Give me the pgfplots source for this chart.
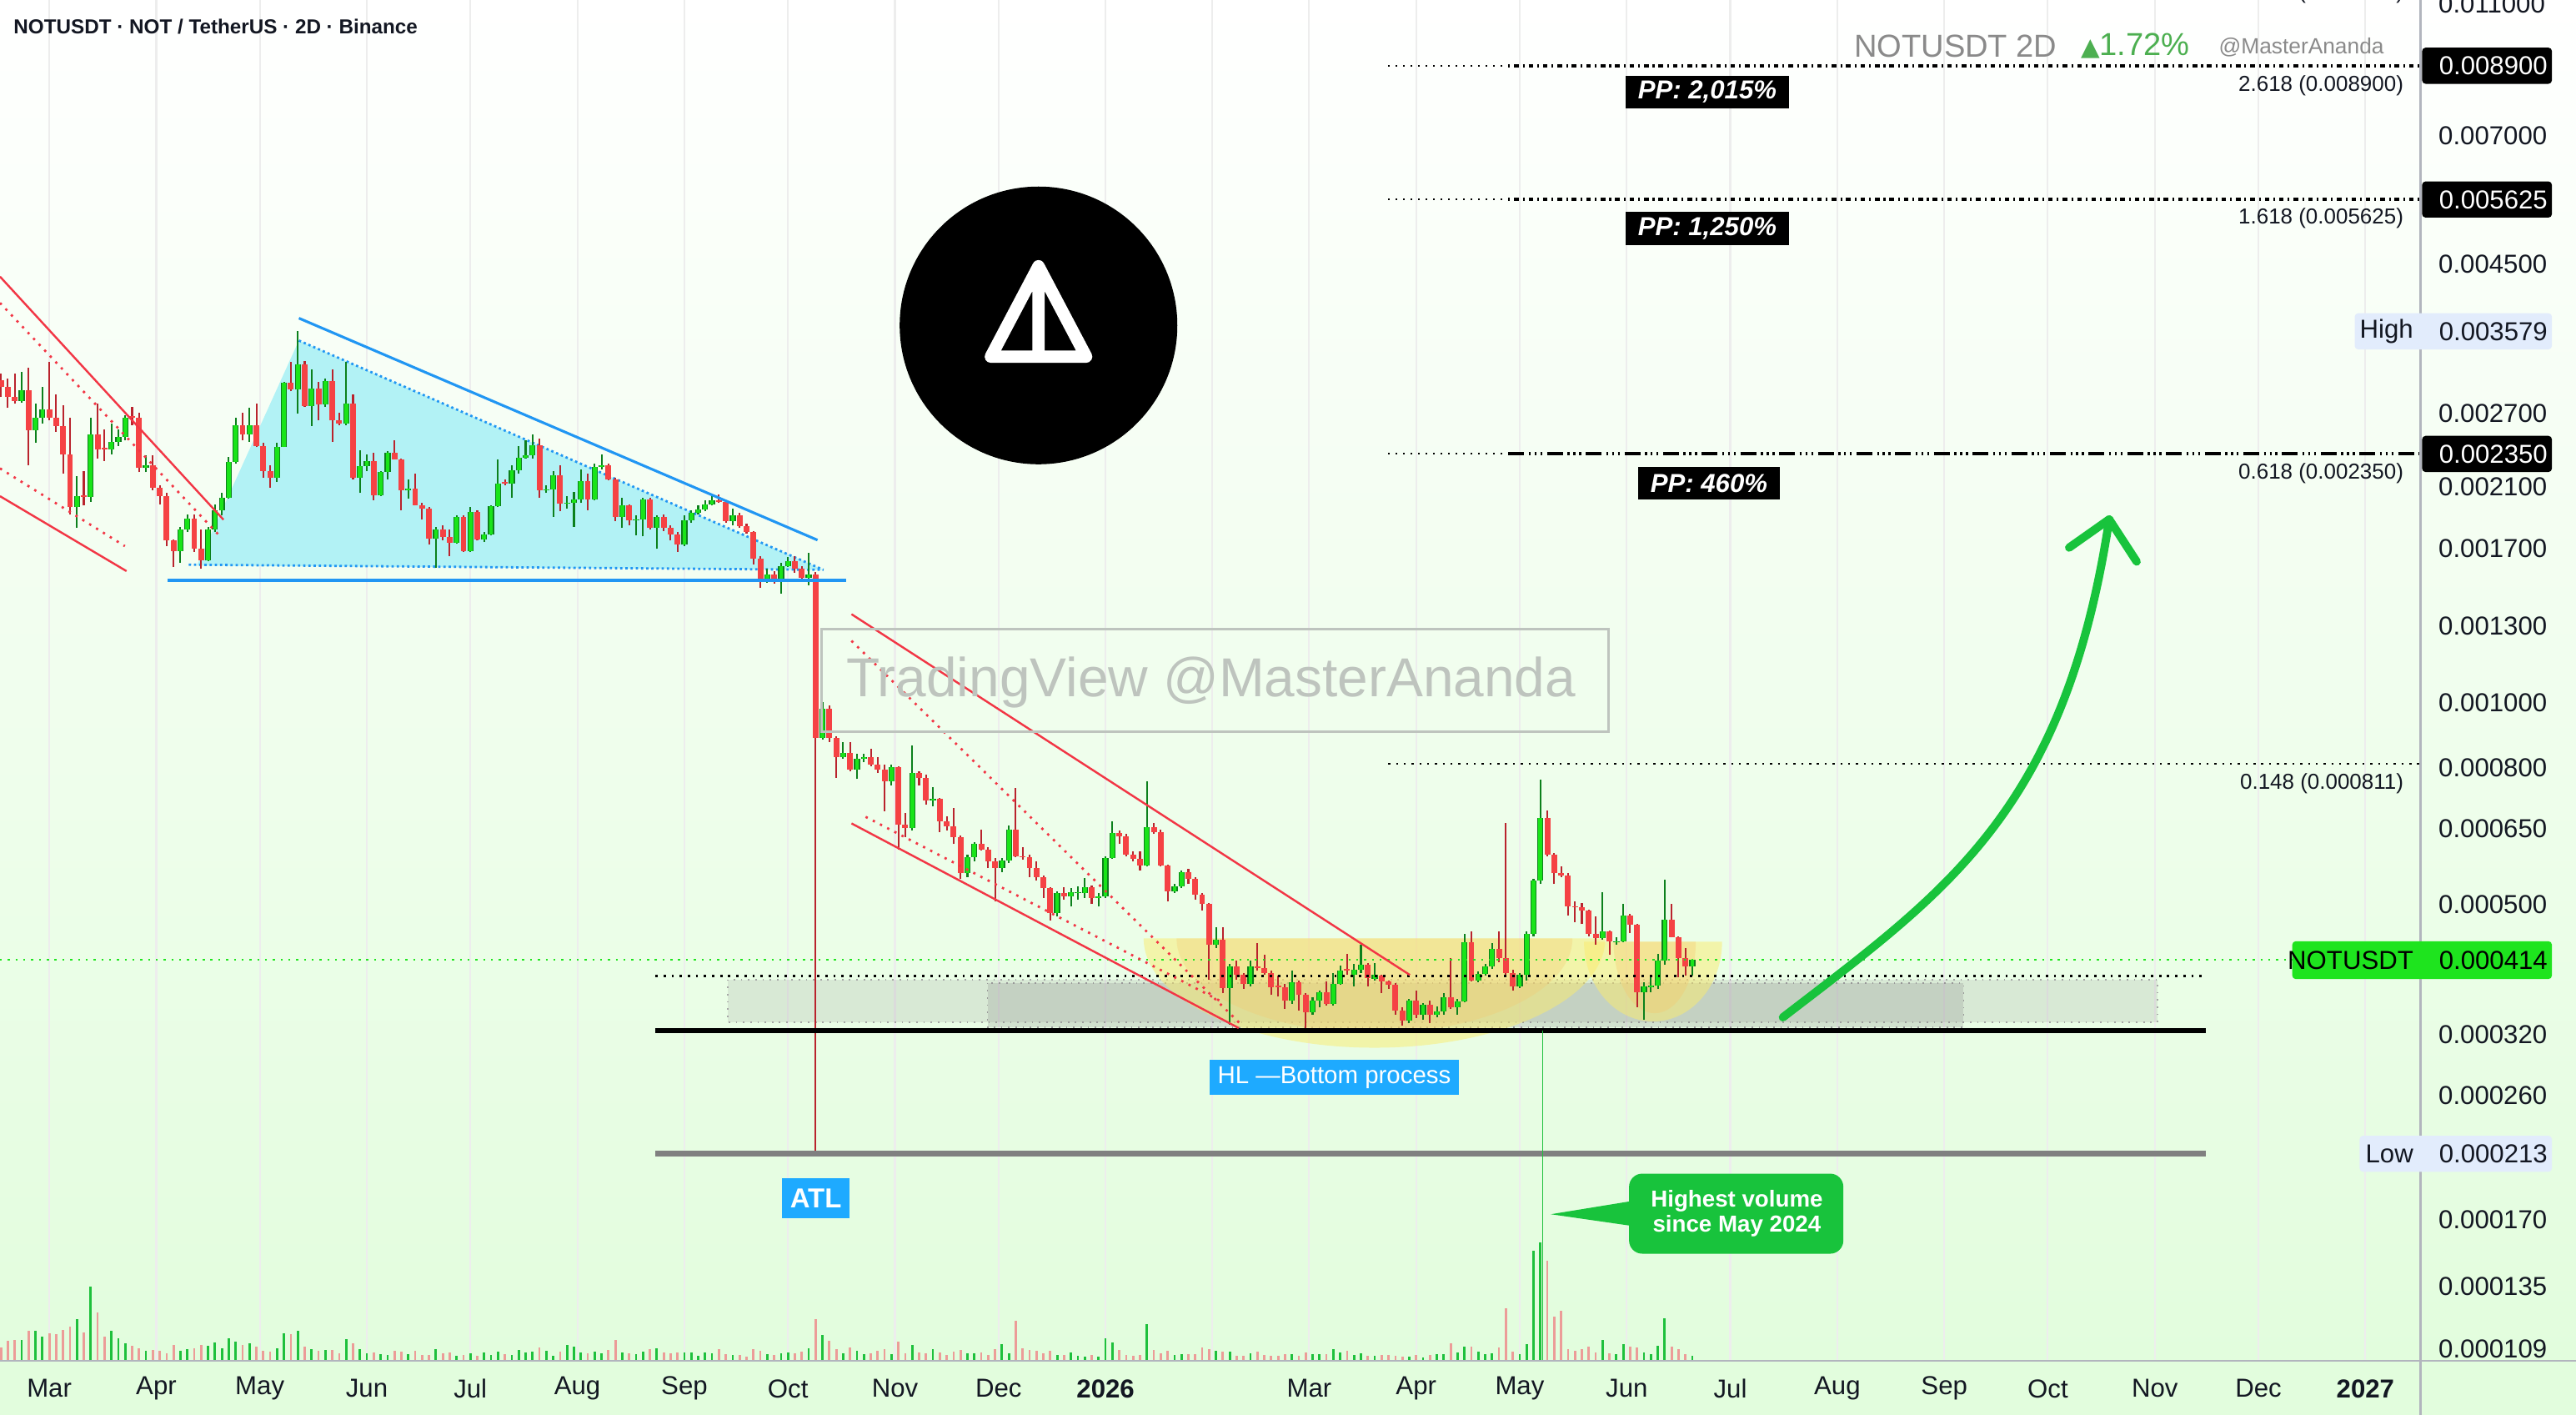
\documentclass[border=0pt]{standalone}
\usepackage{pgfplots}
\pgfplotsset{compat=1.18}
\usepackage{pgfplotstable}
\usepackage{fontspec}
\setmainfont{Liberation Sans}
\newfontfamily\dejavu{DejaVu Sans}

\definecolor{tvtext}{RGB}{19,23,34}
\definecolor{bggreen}{RGB}{226,253,221}
\definecolor{cgreen}{RGB}{25,228,25}
\definecolor{cgreendark}{RGB}{12,128,28}
\definecolor{cred}{RGB}{245,66,68}
\definecolor{credwick}{RGB}{185,35,45}
\definecolor{vgreen}{RGB}{30,192,60}
\definecolor{vred}{RGB}{236,156,152}
\definecolor{tvred}{RGB}{242,54,69}
\definecolor{tvblue}{RGB}{33,150,243}
\definecolor{trifill}{RGB}{178,242,245}
\definecolor{lblblue}{RGB}{30,170,255}
\definecolor{callgreen}{RGB}{24,195,60}
\definecolor{hlbg}{RGB}{226,236,252}
\definecolor{pricegreen}{RGB}{30,228,30}
\definecolor{hdrgray}{RGB}{138,138,138}
\definecolor{hdrgreen}{RGB}{76,175,80}
\definecolor{wm}{RGB}{190,196,190}
\definecolor{yel}{RGB}{250,236,110}
\definecolor{orn}{RGB}{245,200,110}
\definecolor{axisgray}{RGB}{178,181,190}

\pgfplotstableread{
d o h l c v
-14 0.003025 0.003098 0.002856 0.002953 7.9
-12 0.002953 0.003039 0.002749 0.002856 11.8
-10 0.002856 0.003098 0.002788 0.002815 12.5
-8 0.002815 0.003113 0.002802 0.002925 12.5
-6 0.002925 0.003158 0.002259 0.002546 18.1
-4 0.002546 0.002788 0.002439 0.002658 18.1
-2 0.002658 0.002953 0.002608 0.002735 14.5
0 0.002735 0.003219 0.002633 0.002658 16.6
2 0.002658 0.002883 0.002534 0.002588 16.1
4 0.002588 0.002775 0.002195 0.002347 18.6
6 0.002347 0.002658 0.001911 0.001957 20.6
8 0.001957 0.002174 0.001822 0.002033 25.2
10 0.002039 0.002216 0.001967 0.002029 17.1
12 0.002029 0.002658 0.001995 0.002510 45.0
14 0.002510 0.002788 0.002314 0.002388 29.3
16 0.002397 0.002558 0.002292 0.002388 14.5
18 0.002388 0.002608 0.002347 0.002450 18.1
20 0.002450 0.002558 0.002415 0.002491 13.5
22 0.002491 0.002684 0.002462 0.002663 10.5
24 0.002671 0.002762 0.002595 0.002658 9.0
26 0.002658 0.002709 0.002206 0.002237 7.4
28 0.002237 0.002336 0.002206 0.002259 5.9
30 0.002259 0.002336 0.002072 0.002092 6.4
32 0.002092 0.002112 0.001976 0.002033 5.9
34 0.002033 0.002053 0.001712 0.001745 4.4
36 0.001745 0.001753 0.001593 0.001682 9.5
38 0.001682 0.001830 0.001616 0.001813 5.9
40 0.001813 0.001911 0.001796 0.001880 6.9
42 0.001880 0.001911 0.001679 0.001695 7.4
44 0.001695 0.001813 0.001585 0.001631 9.5
46 0.001631 0.001830 0.001624 0.001813 9.0
48 0.001813 0.001976 0.001796 0.001938 11.0
50 0.001938 0.002053 0.001902 0.002023 7.4
52 0.002023 0.002325 0.002014 0.002287 13.5
54 0.002287 0.002658 0.002270 0.002595 11.5
56 0.002595 0.002709 0.002462 0.002515 9.5
58 0.002515 0.002749 0.002450 0.002595 10.5
60 0.002595 0.002788 0.002404 0.002415 8.5
62 0.002415 0.002439 0.002164 0.002216 5.9
64 0.002216 0.002259 0.002092 0.002164 5.4
66 0.002164 0.002439 0.002133 0.002408 7.4
68 0.002408 0.003010 0.002404 0.002996 16.6
70 0.002996 0.003219 0.002911 0.002933 16.1
72 0.002933 0.003579 0.002696 0.003195 18.1
74 0.003195 0.003234 0.002762 0.002770 8.5
76 0.002770 0.003143 0.002583 0.002939 6.9
78 0.002939 0.003010 0.002633 0.002783 5.9
80 0.002783 0.003039 0.002762 0.003016 6.4
82 0.003016 0.003143 0.002450 0.002633 6.4
84 0.002633 0.002709 0.002595 0.002608 4.4
86 0.002608 0.003219 0.002595 0.002793 13.0
88 0.002793 0.002883 0.002153 0.002164 10.5
90 0.002164 0.002381 0.002053 0.002255 6.9
92 0.002255 0.002347 0.002216 0.002292 4.4
94 0.002292 0.002358 0.002005 0.002039 4.9
96 0.002039 0.002216 0.002033 0.002206 3.9
98 0.002206 0.002369 0.002153 0.002358 3.4
100 0.002358 0.002462 0.002303 0.002307 5.9
102 0.002307 0.002314 0.001938 0.002072 5.4
104 0.002072 0.002153 0.002014 0.002086 3.9
106 0.002086 0.002195 0.001967 0.001972 5.9
108 0.001972 0.001986 0.001875 0.001948 3.4
110 0.001948 0.001957 0.001720 0.001758 3.4
112 0.001758 0.001830 0.001588 0.001813 6.9
114 0.001813 0.001839 0.001745 0.001767 4.4
116 0.001767 0.001813 0.001655 0.001731 4.9
118 0.001731 0.001902 0.001728 0.001893 2.9
120 0.001893 0.001902 0.001679 0.001682 3.4
122 0.001682 0.001957 0.001676 0.001923 4.4
124 0.001923 0.001938 0.001745 0.001753 2.9
126 0.001753 0.001796 0.001736 0.001782 4.9
128 0.001782 0.001972 0.001779 0.001965 3.4
130 0.001965 0.002307 0.001957 0.002123 5.4
132 0.002133 0.002153 0.002112 0.002123 3.9
134 0.002123 0.002259 0.002023 0.002222 3.4
136 0.002222 0.002415 0.002195 0.002320 6.4
138 0.002320 0.002462 0.002314 0.002336 4.9
140 0.002336 0.002510 0.002314 0.002422 5.4
142 0.002422 0.002474 0.002023 0.002072 7.9
144 0.002072 0.002112 0.002053 0.002082 5.9
146 0.002082 0.002216 0.001893 0.002185 2.9
148 0.002185 0.002259 0.001929 0.001980 5.4
150 0.001980 0.002033 0.001948 0.001986 9.5
152 0.001986 0.002063 0.001830 0.002010 8.5
154 0.002010 0.002226 0.001986 0.002137 4.9
156 0.002137 0.002195 0.001938 0.002010 4.4
158 0.002010 0.002270 0.002005 0.002248 5.4
160 0.002248 0.002347 0.002226 0.002259 4.4
162 0.002259 0.002270 0.002143 0.002153 6.4
164 0.002153 0.002164 0.001866 0.001893 12.5
166 0.001893 0.002023 0.001822 0.001967 4.9
168 0.001967 0.001976 0.001839 0.001870 4.4
170 0.001870 0.001902 0.001779 0.001877 3.9
172 0.001877 0.002023 0.001770 0.002010 5.4
174 0.002010 0.002023 0.001813 0.001822 6.9
176 0.001822 0.001902 0.001695 0.001893 7.4
178 0.001893 0.001911 0.001804 0.001822 4.9
180 0.001822 0.001839 0.001745 0.001782 4.4
182 0.001782 0.001796 0.001679 0.001720 4.9
184 0.001720 0.001902 0.001712 0.001870 4.9
186 0.001870 0.001938 0.001857 0.001920 4.9
188 0.001920 0.001967 0.001911 0.001942 2.9
190 0.001942 0.002005 0.001929 0.001976 4.9
192 0.001976 0.002033 0.001967 0.002005 4.4
194 0.002005 0.002043 0.001986 0.001991 6.9
196 0.001991 0.002005 0.001857 0.001866 3.9
198 0.001866 0.001948 0.001839 0.001902 3.4
200 0.001902 0.001920 0.001822 0.001834 3.4
202 0.001834 0.001848 0.001787 0.001796 2.4
204 0.001796 0.001804 0.001608 0.001639 6.9
206 0.001639 0.001655 0.001483 0.001526 5.9
208 0.001526 0.001585 0.001511 0.001555 3.9
210 0.001555 0.001570 0.001504 0.001529 3.4
212 0.001529 0.001616 0.001455 0.001600 4.4
214 0.001600 0.001647 0.001593 0.001624 4.9
216 0.001624 0.001655 0.001563 0.001585 4.4
218 0.001585 0.001600 0.001533 0.001537 5.4
220 0.001537 0.001671 0.001497 0.001551 7.4
222 0.001551 0.001565 0.000213 0.000886 25.2
224 0.000886 0.001002 0.000881 0.000980 15.6
226 0.000980 0.000992 0.000875 0.000886 12.0
228 0.000886 0.000891 0.000774 0.000830 6.9
230 0.000830 0.000875 0.000825 0.000842 4.4
232 0.000842 0.000875 0.000791 0.000796 7.9
234 0.000796 0.000840 0.000770 0.000825 5.9
236 0.000825 0.000840 0.000815 0.000830 3.9
238 0.000830 0.000855 0.000805 0.000810 4.4
240 0.000810 0.000830 0.000786 0.000796 5.9
242 0.000796 0.000810 0.000690 0.000765 6.9
244 0.000765 0.000810 0.000754 0.000801 3.9
246 0.000801 0.000805 0.000605 0.000658 11.5
248 0.000658 0.000686 0.000631 0.000650 4.4
250 0.000650 0.000865 0.000646 0.000786 9.5
252 0.000786 0.000791 0.000754 0.000772 4.9
254 0.000772 0.000782 0.000705 0.000715 4.4
256 0.000715 0.000750 0.000702 0.000719 6.9
258 0.000719 0.000722 0.000642 0.000666 4.9
260 0.000666 0.000677 0.000646 0.000654 3.4
262 0.000654 0.000698 0.000616 0.000631 5.4
264 0.000631 0.000634 0.000547 0.000557 6.4
266 0.000557 0.000594 0.000550 0.000589 4.4
268 0.000589 0.000620 0.000580 0.000617 4.4
270 0.000617 0.000647 0.000603 0.000605 4.9
272 0.000605 0.000609 0.000567 0.000580 3.4
274 0.000580 0.000587 0.000506 0.000567 6.9
276 0.000567 0.000587 0.000560 0.000582 10.0
278 0.000582 0.000656 0.000578 0.000648 4.4
280 0.000648 0.000747 0.000589 0.000591 24.2
282 0.000591 0.000609 0.000584 0.000589 7.4
284 0.000589 0.000594 0.000550 0.000567 6.4
286 0.000567 0.000580 0.000543 0.000550 5.9
288 0.000550 0.000553 0.000512 0.000529 4.4
290 0.000529 0.000531 0.000474 0.000486 5.9
292 0.000486 0.000524 0.000480 0.000520 3.4
294 0.000520 0.000531 0.000509 0.000515 3.4
296 0.000515 0.000529 0.000497 0.000522 4.9
298 0.000520 0.000533 0.000509 0.000522 2.9
300 0.000521 0.000548 0.000512 0.000531 2.4
302 0.000531 0.000534 0.000501 0.000512 3.4
304 0.000512 0.000521 0.000497 0.000515 2.4
306 0.000515 0.000591 0.000512 0.000587 13.5
308 0.000587 0.000666 0.000586 0.000640 11.0
310 0.000640 0.000646 0.000616 0.000632 6.4
312 0.000632 0.000638 0.000591 0.000594 3.4
314 0.000594 0.000601 0.000580 0.000586 2.9
316 0.000586 0.000601 0.000563 0.000572 3.4
318 0.000572 0.000765 0.000570 0.000652 22.2
320 0.000652 0.000662 0.000638 0.000642 6.4
322 0.000642 0.000647 0.000570 0.000572 4.4
324 0.000572 0.000574 0.000506 0.000524 5.9
326 0.000524 0.000537 0.000521 0.000533 3.4
328 0.000533 0.000563 0.000529 0.000560 3.9
330 0.000560 0.000566 0.000537 0.000547 3.9
332 0.000547 0.000550 0.000509 0.000518 3.9
334 0.000518 0.000520 0.000491 0.000501 7.9
336 0.000501 0.000503 0.000387 0.000436 6.9
338 0.000436 0.000463 0.000431 0.000444 5.9
340 0.000444 0.000463 0.000369 0.000376 5.4
342 0.000376 0.000408 0.000331 0.000405 5.4
344 0.000405 0.000413 0.000387 0.000393 2.9
346 0.000393 0.000396 0.000375 0.000381 2.9
348 0.000381 0.000413 0.000378 0.000405 4.4
350 0.000405 0.000439 0.000399 0.000402 5.4
352 0.000402 0.000421 0.000393 0.000396 3.4
354 0.000396 0.000399 0.000367 0.000377 2.9
356 0.000379 0.000392 0.000365 0.000377 2.9
358 0.000377 0.000381 0.000350 0.000360 3.9
360 0.000360 0.000399 0.000356 0.000383 3.9
362 0.000383 0.000386 0.000348 0.000367 2.9
364 0.000367 0.000369 0.000326 0.000346 4.9
366 0.000346 0.000364 0.000343 0.000360 3.9
368 0.000360 0.000373 0.000352 0.000371 3.9
370 0.000371 0.000385 0.000354 0.000356 3.9
372 0.000356 0.000396 0.000354 0.000381 6.9
374 0.000381 0.000406 0.000380 0.000399 4.9
376 0.000401 0.000423 0.000394 0.000399 5.9
378 0.000393 0.000408 0.000378 0.000400 3.4
380 0.000400 0.000436 0.000396 0.000407 4.4
382 0.000407 0.000410 0.000378 0.000389 2.9
384 0.000388 0.000410 0.000386 0.000393 2.9
386 0.000392 0.000394 0.000369 0.000385 3.4
388 0.000385 0.000386 0.000375 0.000380 3.4
390 0.000380 0.000382 0.000343 0.000348 2.9
392 0.000348 0.000352 0.000330 0.000336 2.4
394 0.000336 0.000362 0.000333 0.000360 2.4
396 0.000360 0.000373 0.000339 0.000343 3.4
398 0.000343 0.000357 0.000337 0.000355 1.9
400 0.000355 0.000360 0.000333 0.000343 3.4
402 0.000343 0.000353 0.000340 0.000347 3.9
404 0.000347 0.000369 0.000343 0.000364 3.9
406 0.000364 0.000416 0.000350 0.000352 10.5
408 0.000352 0.000362 0.000343 0.000359 4.9
410 0.000359 0.000452 0.000358 0.000440 8.5
412 0.000440 0.000456 0.000385 0.000386 8.5
414 0.000386 0.000398 0.000383 0.000395 5.4
416 0.000395 0.000408 0.000392 0.000405 3.9
418 0.000405 0.000438 0.000401 0.000430 4.4
420 0.000430 0.000456 0.000411 0.000416 7.9
422 0.000416 0.000663 0.000391 0.000396 31.8
424 0.000396 0.000400 0.000373 0.000378 5.4
426 0.000378 0.000396 0.000376 0.000393 3.9
428 0.000393 0.000456 0.000386 0.000453 10.0
430 0.000453 0.000547 0.000449 0.000543 67.0
432 0.000543 0.000768 0.000537 0.000674 72.0
434 0.000674 0.000692 0.000591 0.000594 61.0
436 0.000594 0.000598 0.000537 0.000557 26.7
438 0.000557 0.000570 0.000550 0.000553 30.3
440 0.000553 0.000557 0.000482 0.000498 6.9
442 0.000498 0.000506 0.000471 0.000496 5.9
444 0.000496 0.000503 0.000468 0.000490 6.9
446 0.000490 0.000492 0.000449 0.000453 8.5
448 0.000453 0.000480 0.000436 0.000446 4.9
450 0.000446 0.000522 0.000444 0.000456 12.5
452 0.000456 0.000458 0.000421 0.000441 4.4
454 0.000440 0.000448 0.000436 0.000441 3.9
456 0.000441 0.000502 0.000440 0.000482 10.0
458 0.000482 0.000485 0.000454 0.000467 8.5
460 0.000467 0.000469 0.000352 0.000371 7.9
462 0.000371 0.000383 0.000337 0.000378 4.9
464 0.000377 0.000392 0.000371 0.000379 3.9
466 0.000379 0.000423 0.000375 0.000413 9.0
468 0.000413 0.000545 0.000407 0.000475 25.7
470 0.000475 0.000502 0.000447 0.000448 8.5
472 0.000448 0.000449 0.000390 0.000417 6.9
474 0.000417 0.000431 0.000392 0.000405 3.9
476 0.000405 0.000415 0.000392 0.000414 2.9
}\candles

\newcommand{\ftick}{\fontsize{9}{10}\selectfont}
\newcommand{\ffib}{\fontsize{7.5}{8}\selectfont}
\tikzset{px/.style={x=0.02cm,y=-0.02cm,shift={(0,17.22cm)}}}
\pgfplotsset{
  base/.style={at={(0,0.66cm)}, anchor=south west, scale only axis,
    width=29.46cm, height=16.56cm, xmin=-14.279, xmax=686.81,
    axis line style={draw=none}, major tick length=0pt, tick style={draw=none},
    xtick={0,31,61,92,122,153,184,214,245,275,306,337,365,396,426,457,487,518,549,579,610,640,671}},
  greenonly/.style={restrict expr to domain={\thisrow{c}-\thisrow{o}}{0:1}},
  redonly/.style={restrict expr to domain={\thisrow{c}-\thisrow{o}}{-1:-0.0000001}},
  candle/.style={draw=none, mark=none, forget plot,
    error bars/y dir=plus, error bars/y explicit, error bars/error mark=none,
    error bars/error bar style={#1}},
}

\begin{document}
\begin{tikzpicture}
\useasboundingbox (0,0) rectangle (31.36cm,17.22cm);
\begin{scope}[px]
  \shade[top color=white, bottom color=bggreen] (0,0) rectangle (1568,828);
  \fill[bggreen] (0,828) rectangle (1568,861);
\end{scope}

% ---------- volume pane ----------
\begin{axis}[base, ymin=0, ymax=828, ytick=\empty, xticklabel={\mbox{}},
  xmajorgrids, grid style={draw=black!7, line width=0.6pt}]
\addplot[ycomb, vgreen, line width=0.8pt, mark=none, greenonly] table[x=d,y=v]{\candles};
\addplot[ycomb, vred, line width=0.8pt, mark=none, redonly] table[x=d,y=v]{\candles};
\end{axis}

% ---------- shapes behind the candles ----------
\begin{scope}[px]
  \fill[trifill] (119.8,344.1) -- (181.9,207.2) -- (501.1,346.7) -- cycle;
  \draw[tvblue, densely dotted, line width=0.8pt] (181.9,207.2) -- (501.1,346.7);
  \draw[tvblue, densely dotted, line width=0.8pt] (114.9,343.6) -- (501.1,346.7);
  \fill[gray, opacity=0.16] (443,596) rectangle (1313,622);
  \draw[gray!70, dotted, line width=0.5pt] (443,596) rectangle (1313,622);
  \fill[gray, opacity=0.22] (601,598) rectangle (1195,625);
  \draw[gray!80, dotted, line width=0.5pt] (601,598) rectangle (1195,625);
  \fill[yel, opacity=0.5] (696,571) arc[start angle=180, end angle=360, x radius=2.81cm, y radius=1.33cm] -- cycle;
  \fill[orn, opacity=0.3] (716,571) arc[start angle=180, end angle=360, x radius=2.41cm, y radius=1.15cm] -- cycle;
  \fill[yel, opacity=0.5] (964,573) arc[start angle=180, end angle=360, x radius=0.84cm, y radius=0.97cm] -- cycle;
  \fill[orn, opacity=0.35] (982,573) arc[start angle=180, end angle=360, x radius=0.50cm, y radius=0.87cm] -- cycle;
\end{scope}

% ---------- price pane ----------
\begin{axis}[base, ymode=log, ymin=1.0469e-4, ymax=0.011147, clip=false,
  xticklabels={Mar,Apr,May,Jun,Jul,Aug,Sep,Oct,Nov,Dec,\textbf{2026},{},Mar,Apr,May,Jun,Jul,Aug,Sep,Oct,Nov,Dec,\textbf{2027}},
  xticklabel style={anchor=center, yshift=-0.34cm, font=\ftick, text=tvtext},
  ytick={0.000109,0.000135,0.00017,0.00026,0.00032,0.0005,0.00065,0.0008,0.001,0.0013,0.0017,0.0021,0.0027,0.0045,0.007,0.011},
  yticklabels={0.000109,0.000135,0.000170,0.000260,0.000320,0.000500,0.000650,0.000800,0.001000,0.001300,0.001700,0.002100,0.002700,0.004500,0.007000,0.011000},
  yticklabel pos=right,
  yticklabel style={anchor=west, xshift=0.22cm, inner sep=0pt, font=\ftick, text=tvtext}]

% green candles
\addplot[candle={draw=cgreendark, line width=0.6pt}, greenonly]
  table[x=d, y=l, y error expr=\thisrow{h}-\thisrow{l}]{\candles};
\addplot[candle={draw=cgreendark, line width=2.1pt}, greenonly]
  table[x=d, y=o, y error expr=\thisrow{c}-\thisrow{o}]{\candles};
\addplot[candle={draw=cgreen, line width=1.35pt}, greenonly]
  table[x=d, y=o, y error expr=\thisrow{c}-\thisrow{o}]{\candles};
% red candles
\addplot[candle={draw=credwick, line width=0.6pt}, redonly]
  table[x=d, y=l, y error expr=\thisrow{h}-\thisrow{l}]{\candles};
\addplot[candle={draw=cred, line width=2.0pt}, redonly]
  table[x=d, y=c, y error expr=\thisrow{o}-\thisrow{c}]{\candles};

% horizontal levels
\draw[pricegreen, dotted, line width=0.7pt] (axis cs:-14.279,0.000414) -- (axis cs:649.7,0.000414);
\draw[black, dotted, line width=0.8pt] (axis cs:175.6,0.000392) -- (axis cs:624.9,0.000392);
\draw[black, line width=1.6pt] (axis cs:175.6,0.000325) -- (axis cs:624.9,0.000325);
\draw[black!50, line width=1.8pt] (axis cs:175.6,0.000213) -- (axis cs:624.9,0.000213);
\draw[black, dotted, line width=0.7pt] (axis cs:387.9,0.000811) -- (axis cs:686.81,0.000811);
\draw[black, dotted, line width=0.6pt] (axis cs:387.9,0.00235) -- (axis cs:422.7,0.00235);
\draw[black, dotted, line width=0.6pt] (axis cs:387.9,0.005625) -- (axis cs:422.7,0.005625);
\draw[black, dotted, line width=0.6pt] (axis cs:387.9,0.0089) -- (axis cs:422.7,0.0089);
\draw[black, line width=1.3pt, dash pattern=on 5.5pt off 1.6pt on 0.7pt off 1.3pt on 0.7pt off 1.3pt on 0.7pt off 1.6pt]
  (axis cs:422.7,0.00235) -- (axis cs:686.81,0.00235);
\draw[black, line width=1.2pt, dash pattern=on 0.6pt off 1.4pt on 1.6pt off 1.4pt]
  (axis cs:422.7,0.005625) -- (axis cs:686.81,0.005625);
\draw[black, line width=1.2pt, dash pattern=on 0.6pt off 1.4pt on 1.6pt off 1.4pt]
  (axis cs:422.7,0.0089) -- (axis cs:686.81,0.0089);
\end{axis}

% ---------- drawings on top ----------
\begin{scope}[px]
  % red channel (Feb-Mar)
  \draw[tvred, line width=0.7pt] (0,168.3) -- (136,316.2);
  \draw[tvred, dotted, line width=0.8pt] (0,184.3) -- (134,326.4);
  \draw[tvred, dotted, line width=0.8pt] (0,285) -- (76,332.3);
  \draw[tvred, line width=0.7pt] (0,301.9) -- (77,347.5);
  % blue triangle lines
  \draw[tvblue, line width=0.9pt] (181.9,193.6) -- (497.5,328.6);
  \draw[tvblue, line width=1.2pt] (102,352.9) -- (515,352.9);
  % red channel (Oct-Mar)
  \draw[tvred, line width=0.7pt] (518.2,373.7) -- (858,593.2);
  \draw[tvred, dotted, line width=0.8pt] (518.2,389.9) -- (755.7,623.8);
  \draw[tvred, dotted, line width=0.8pt] (526.8,497) -- (742.6,609);
  \draw[tvred, line width=0.7pt] (518.2,501) -- (753.8,625.5);
  % volume marker line
  \draw[vgreen, line width=0.5pt] (938.8,627) -- (938.8,828);

  % watermark
  \draw[wm, line width=0.9pt] (500,383) rectangle (979,445);
  \node[text=wm, font=\fontsize{19}{20}\selectfont, inner sep=0pt] at (737,415) {TradingView @MasterAnanda};

  % logo
  \fill[black] (632,198) circle[radius=1.69cm];
  \draw[white, line width=0.15cm, line join=round, line cap=round]
    (632,162) -- (603,217) -- (661,217) -- cycle (632,162) -- (632,217);

  % fib labels
  \node[anchor=east, inner sep=0pt, font=\ffib, text=tvtext] at (1463,-4) {3.618 (0.012175)};
  \node[anchor=east, inner sep=0pt, font=\ffib, text=tvtext] at (1463,52) {2.618 (0.008900)};
  \node[anchor=east, inner sep=0pt, font=\ffib, text=tvtext] at (1463,133) {1.618 (0.005625)};
  \node[anchor=east, inner sep=0pt, font=\ffib, text=tvtext] at (1463,288) {0.618 (0.002350)};
  \node[anchor=east, inner sep=0pt, font=\ffib, text=tvtext] at (1463,477) {0.148 (0.000811)};

  % PP labels
  \node[fill=black, text=white, font=\bfseries\itshape\fontsize{9}{10}\selectfont, inner xsep=0.15cm, inner ysep=0pt, minimum height=0.4cm] at (1039,56) {PP: 2,015\%};
  \node[fill=black, text=white, font=\bfseries\itshape\fontsize{9}{10}\selectfont, inner xsep=0.15cm, inner ysep=0pt, minimum height=0.4cm] at (1039,139) {PP: 1,250\%};
  \node[fill=black, text=white, font=\bfseries\itshape\fontsize{9}{10}\selectfont, inner xsep=0.15cm, inner ysep=0pt, minimum height=0.4cm] at (1040,294) {PP: 460\%};

  % arrow
  \draw[callgreen, line width=0.1cm, line cap=round] (1085,619) .. controls (1185,542) and (1256.6,493.8) .. (1283.6,316);
  \draw[callgreen, line width=0.1cm, line cap=round, line join=round] (1259.2,333.2) -- (1283.6,316) -- (1300.3,341.7);

  % callout
  \fill[callgreen, rounded corners=0.16cm] (991.4,714.1) rectangle (1121.8,762.8);
  \fill[callgreen] (996,730.3) -- (943.8,738.8) -- (996,746.3) -- cycle;
  \node[align=center, text=white, font=\bfseries\fontsize{8}{8.6}\selectfont, inner sep=0pt] at (1057,738.5) {Highest volume\\since May 2024};

  % HL and ATL labels
  \fill[lblblue] (736,645) rectangle (888,666);
  \node[text=white, font=\fontsize{8.5}{9}\selectfont, inner sep=0pt] at (812,655.5) {HL —Bottom process};
  \fill[lblblue] (476,717) rectangle (517,741);
  \node[text=white, font=\bfseries\fontsize{9.5}{10}\selectfont, inner sep=0pt] at (496.5,729) {ATL};

  % titles
  \node[anchor=west, inner sep=0pt, font=\bfseries\fontsize{7}{8}\selectfont, text=tvtext] at (8,16) {NOTUSDT · NOT / TetherUS · 2D · Binance};
  \node[anchor=west, inner sep=0pt, text=hdrgray, font=\fontsize{11}{12}\selectfont] at (1128,28) {NOTUSDT 2D};
  \node[anchor=west, inner sep=0pt, text=hdrgreen, font=\fontsize{11}{12}\selectfont] at (1266,28) {{\dejavu\fontsize{8.5}{9}\selectfont ▲}1.72\%};
  \node[anchor=west, inner sep=0pt, text=hdrgray, font=\fontsize{7.6}{8}\selectfont] at (1350,29) {@MasterAnanda};

  % axis frame
  \draw[axisgray, line width=0.8pt] (1473,0) -- (1473,861);
  \draw[axisgray, line width=0.8pt] (0,828) -- (1568,828);

  % price-scale boxes
  \foreach \yy/\txt in {40/0.008900, 121.4/0.005625, 276.2/0.002350}{
    \fill[black, rounded corners=1.2pt] (1474,\yy-11) rectangle (1553,\yy+11);
    \node[anchor=west, inner sep=0pt, text=white, font=\ftick] at (1484,\yy) {\txt};
  }
  \fill[hlbg, rounded corners=1.2pt] (1433,190.6) rectangle (1553,212.6);
  \node[anchor=east, inner sep=0pt, text=tvtext, font=\ftick] at (1469,201.6) {High};
  \node[anchor=west, inner sep=0pt, text=tvtext, font=\ftick] at (1484,201.6) {0.003579};
  \fill[pricegreen, rounded corners=1.2pt] (1395,572.7) rectangle (1553,595.7);
  \node[anchor=east, inner sep=0pt, text=black, font=\ftick] at (1469,584.2) {NOTUSDT};
  \node[anchor=west, inner sep=0pt, text=black, font=\ftick] at (1484,584.2) {0.000414};
  \fill[hlbg, rounded corners=1.2pt] (1436,691) rectangle (1553,713);
  \node[anchor=east, inner sep=0pt, text=tvtext, font=\ftick] at (1469,702) {Low};
  \node[anchor=west, inner sep=0pt, text=tvtext, font=\ftick] at (1484,702) {0.000213};
\end{scope}
\end{tikzpicture}
\end{document}
